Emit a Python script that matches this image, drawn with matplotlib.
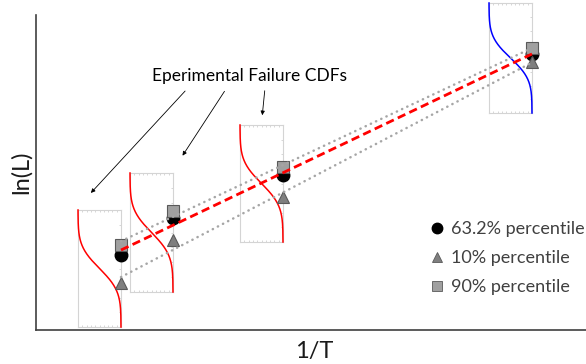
import math
import numpy as np
import matplotlib
matplotlib.use('Agg')
import matplotlib.pyplot as plt
from matplotlib.lines import Line2D

plt.rcParams['font.family'] = ['Lato', 'DejaVu Sans']

# chart units: 1/T along x, ln(L) along y (arbitrary scale)
inv_T = [85, 137, 247, 496]
p632 = [75, 112, 155, 276]   # 63.2% percentile
p10 = [47, 90, 133, 268]     # 10% percentile
p90 = [85, 119, 163, 282]    # 90% percentile

# vertical extent of each experimental CDF inset, and its colour
cdf_lo = [3, 38, 88, 217]
cdf_hi = [120, 157, 205, 327]
cdf_colors = ['#ff0000', '#ff0000', '#ff0000', '#0000ff']

fig = plt.figure(figsize=(5.86, 3.64), dpi=100)
ax = fig.add_axes([36 / 586, 34 / 364, 550 / 586, 315 / 364])
ax.set_xlim(0, 550)
ax.set_ylim(0, 315)
ax.set_xticks([])
ax.set_yticks([])
for s in ['top', 'right']:
    ax.spines[s].set_visible(False)
for s in ['left', 'bottom']:
    ax.spines[s].set_color('#404040')
    ax.spines[s].set_linewidth(1.2)

# CDF insets
yy = np.linspace(0, 1, 200)
cdf = np.array([0.5 * (1 - math.erf((v - 0.5) / (0.15 * math.sqrt(2)))) for v in yy])
box_w = 43
for x, lo, hi, c in zip(inv_T, cdf_lo, cdf_hi, cdf_colors):
    ins = ax.inset_axes([x - box_w, lo, box_w, hi - lo], transform=ax.transData, zorder=1.5)
    ins.patch.set_alpha(0)
    ins.set_xlim(0, 1)
    ins.set_ylim(0, 1)
    ins.plot(cdf, yy, color=c, lw=1.1, clip_on=False, zorder=3)
    ins.set_xticks(np.linspace(0, 1, 11))
    ins.set_yticks(np.linspace(0, 1, 9))
    ins.tick_params(direction='in', length=1.5, width=0.5, color='#c8c8c8',
                    labelbottom=False, labelleft=False,
                    top=True, right=True, left=False, bottom=True)
    for sp in ins.spines.values():
        sp.set_color('#d4d4d4')
        sp.set_linewidth(0.8)

# percentile markers
ax.plot(inv_T, p632, 'o', color='black', ms=9, zorder=3)
ax.plot(inv_T, p10, '^', color='#7f7f7f', mec='#595959', mew=0.8, ms=9, zorder=3)
ax.plot(inv_T, p90, 's', color='#a0a0a0', mec='#595959', mew=0.8, ms=8.5, zorder=3)

# fitted lines
xs = np.array([min(inv_T), max(inv_T)])
k, b = np.polyfit(inv_T, p632, 1)
ax.plot(xs, k * xs + b, color='#ff0000', lw=2, ls=(0, (3, 1.6)), zorder=4)
for vals in [p90, p10]:
    k, b = np.polyfit(inv_T, vals, 1)
    ax.plot(xs, k * xs + b, color='#a6a6a6', lw=1.8, ls=(0, (0.1, 2.2)),
            dash_capstyle='round', zorder=4)

# annotation
ax.text(213, 254, 'Eperimental Failure CDFs', ha='center', va='center', fontsize=12.5)
arrow = dict(arrowstyle='-|>', lw=0.6, color='black', mutation_scale=6)
ax.annotate('', xy=(53, 135), xytext=(151, 241), arrowprops=arrow)
ax.annotate('', xy=(145, 172), xytext=(190, 241), arrowprops=arrow)
ax.annotate('', xy=(226, 212), xytext=(229, 242), arrowprops=arrow)

# legend
handles = [
    Line2D([], [], marker='o', ls='none', color='black', ms=7.5),
    Line2D([], [], marker='^', ls='none', color='#7f7f7f', mec='#595959', mew=0.6, ms=7.5),
    Line2D([], [], marker='s', ls='none', color='#a0a0a0', mec='#595959', mew=0.6, ms=7),
]
labels = ['63.2% percentile', '10% percentile', '90% percentile']
leg = ax.legend(handles, labels, loc='upper left', bbox_to_anchor=(0.716, 0.346),
                frameon=False, fontsize=13, handlelength=0.8, handletextpad=0.4,
                borderpad=0, borderaxespad=0, labelspacing=0.73)
for t in leg.get_texts():
    t.set_color('#404040')

ax.set_xlabel('1/T', fontsize=17, color='#1a1a1a')
ax.set_ylabel('ln(L)', fontsize=17, color='#1a1a1a')
ax.xaxis.set_label_coords(0.505, -0.035)
ax.yaxis.set_label_coords(-0.008, 0.5)

fig.savefig('out.png', dpi=100)
